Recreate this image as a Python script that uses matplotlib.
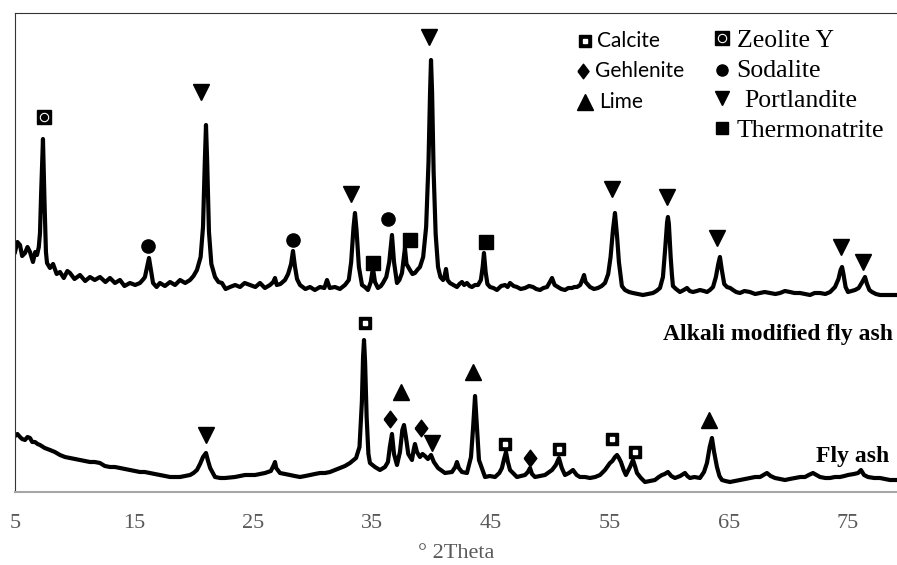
import matplotlib.pyplot as plt
from matplotlib.path import Path

# XRD pattern (2theta in degrees, intensity in a.u.)
two_theta_alkali = [5.00, 5.20, 5.42, 5.60, 5.84, 6.05, 6.26, 6.51, 6.70, 6.85, 7.00, 7.10, 7.20, 7.35, 7.48, 7.60,
                    7.69, 7.94, 8.20, 8.50, 8.78, 9.10, 9.40, 9.62, 10.0, 10.46, 10.9, 11.30, 11.7, 12.14, 12.6,
                    12.98, 13.4, 13.82, 14.2, 14.66, 15.1, 15.50, 15.80, 15.92, 16.10, 16.26, 16.42, 16.60, 16.9,
                    17.18, 17.6, 18.03, 18.45, 18.87, 19.3, 19.71, 20.0, 20.29, 20.6, 20.8, 20.95, 21.05, 21.15,
                    21.3, 21.5, 21.81, 22.1, 22.39, 22.7, 23.07, 23.5, 23.91, 24.3, 24.75, 25.2, 25.59, 26.0,
                    26.43, 26.7, 26.85, 27.0, 27.3, 27.69, 27.95, 28.2, 28.36, 28.52, 28.7, 28.95, 29.4, 29.79,
                    30.2, 30.63, 31.0, 31.22, 31.45, 31.89, 32.3, 32.73, 33.05, 33.25, 33.45, 33.57, 33.7, 33.9,
                    34.16, 34.4, 34.66, 34.9, 35.08, 35.25, 35.50, 35.75, 35.92, 36.2, 36.45, 36.68, 36.85, 37.10,
                    37.3, 37.52, 37.65, 37.77, 37.9, 38.19, 38.4, 38.61, 38.8, 39.03, 39.3, 39.55, 39.75, 39.88,
                    39.96, 40.05, 40.18, 40.35, 40.55, 40.75, 40.97, 41.1, 41.22, 41.35, 41.55, 41.85, 42.14,
                    42.35, 42.56, 42.75, 42.98, 43.2, 43.40, 43.65, 43.91, 44.15, 44.3, 44.41, 44.55, 44.7, 44.92,
                    45.2, 45.50, 45.85, 46.18, 46.4, 46.60, 46.9, 47.18, 47.5, 47.86, 48.2, 48.53, 48.8, 49.12,
                    49.4, 49.71, 49.95, 50.13, 50.35, 50.63, 50.9, 51.22, 51.5, 51.81, 52.0, 52.23, 52.5, 52.7,
                    52.82, 52.95, 53.32, 53.65, 53.99, 54.3, 54.58, 54.85, 55.05, 55.25, 55.42, 55.6, 55.75, 56.0,
                    56.26, 56.6, 56.93, 57.35, 57.77, 58.2, 58.61, 58.9, 59.20, 59.45, 59.65, 59.80, 59.87, 59.95,
                    60.1, 60.2, 60.29, 60.55, 60.88, 61.2, 61.47, 61.7, 61.97, 62.3, 62.56, 62.9, 63.15, 63.4,
                    63.66, 63.9, 64.1, 64.24, 64.4, 64.6, 64.83, 65.1, 65.34, 65.6, 65.92, 66.3, 66.76, 67.2,
                    67.61, 68.0, 68.45, 68.9, 69.29, 69.7, 70.13, 70.5, 70.97, 71.4, 71.81, 72.2, 72.65, 73.1,
                    73.5, 73.91, 74.2, 74.38, 74.50, 74.62, 74.8, 75.00, 75.3, 75.59, 75.9, 76.2, 76.43, 76.6,
                    76.8, 77.02, 77.35, 77.69, 78.1, 78.53, 79.12]
counts_alkali = [240, 250, 247, 236, 239, 245, 240, 230, 240, 237, 245, 259, 300, 353, 290, 240,
                 229, 224, 228, 218, 220, 214, 221, 219, 213, 217, 211, 215, 212, 215, 210,
                 214, 209, 212, 206, 209, 207, 209, 213, 215, 225, 234, 222, 209, 205,
                 209, 206, 210, 207, 212, 209, 212, 216, 222, 235, 265, 330, 367, 330,
                 260, 228, 215, 210, 209, 203, 205, 207, 205, 209, 207, 205, 209, 204,
                 207, 210, 214, 207, 208, 212, 218, 228, 241, 226, 213, 207, 203, 205,
                 202, 205, 204, 212, 204, 205, 203, 207, 212, 230, 265, 279, 262, 225,
                 207, 205, 202, 210, 224, 210, 204, 206, 209, 215, 230, 257, 230, 209,
                 212, 219, 232, 244, 228, 222, 218, 219, 222, 225, 235, 265, 330, 400,
                 432, 400, 320, 258, 225, 215, 212, 216, 223, 212, 209, 207, 205,
                 208, 210, 207, 209, 206, 205, 207, 207, 212, 225, 239, 220, 208, 205,
                 204, 202, 206, 207, 205, 209, 206, 205, 203, 204, 206, 205, 203, 202,
                 204, 205, 210, 214, 207, 205, 203, 202, 204, 204, 205, 205, 207, 213,
                 217, 210, 205, 203, 204, 206, 209, 218, 235, 262, 279, 255, 230, 206,
                 202, 200, 199, 198, 197, 198, 199, 201, 204, 215, 245, 270, 275, 268,
                 235, 218, 206, 203, 200, 202, 204, 201, 200, 201, 202, 201, 200, 202,
                 205, 215, 228, 235, 222, 208, 205, 204, 202, 200, 199, 201, 200, 198,
                 199, 200, 199, 198, 199, 201, 200, 199, 199, 198, 197, 199, 199, 198,
                 200, 205, 213, 222, 225, 218, 205, 200, 201, 202, 204, 210, 215, 208,
                 202, 200, 198, 197, 197, 197, 197]

two_theta_fly = [5.00, 5.20, 5.42, 5.60, 5.84, 6.05, 6.26, 6.45, 6.68, 6.90, 7.10, 7.50, 7.94, 8.35, 8.78, 9.20,
                 9.62, 10.05, 10.46, 10.9, 11.30, 11.7, 12.14, 12.55, 12.98, 13.4, 13.82, 14.25, 14.66, 15.1,
                 15.50, 15.9, 16.34, 16.8, 17.18, 17.6, 18.03, 18.45, 18.87, 19.3, 19.71, 20.0, 20.29, 20.55,
                 20.80, 21.05, 21.20, 21.4, 21.81, 22.25, 22.65, 23.49, 23.9, 24.33, 24.75, 25.17, 25.6, 26.01,
                 26.5, 26.75, 26.85, 26.95, 27.27, 27.7, 28.11, 28.5, 28.95, 29.4, 29.79, 30.2, 30.63, 31.05,
                 31.47, 31.9, 32.31, 32.73, 33.15, 33.66, 33.95, 34.15, 34.25, 34.33, 34.42, 34.55, 34.70, 34.83,
                 35.25, 35.67, 36.09, 36.34, 36.50, 36.68, 36.85, 37.10, 37.35, 37.55, 37.69, 37.85, 38.05, 38.36,
                 38.50, 38.61, 38.78, 39.03, 39.25, 39.45, 39.70, 39.96, 40.2, 40.55, 41.13, 41.72, 42.0, 42.14,
                 42.3, 42.56, 42.98, 43.32, 43.50, 43.66, 43.82, 43.99, 44.50, 44.9, 45.34, 45.70, 45.92, 46.10,
                 46.26, 46.42, 46.60, 47.18, 47.86, 48.10, 48.28, 48.45, 48.70, 49.1, 49.54, 50.13, 50.45, 50.71,
                 50.95, 51.22, 51.55, 51.89, 52.2, 52.48, 52.9, 53.32, 53.75, 54.16, 54.58, 55.00, 55.20, 55.42,
                 55.59, 55.75, 55.92, 56.15, 56.34, 56.55, 56.68, 56.93, 57.10, 57.27, 57.6, 57.94, 58.35, 58.78,
                 59.1, 59.37, 59.6, 59.87, 60.15, 60.46, 60.9, 61.30, 61.5, 61.72, 62.1, 62.56, 62.9, 63.15,
                 63.38, 63.57, 63.75, 63.99, 64.2, 64.41, 64.7, 65.08, 65.5, 65.92, 66.3, 66.76, 67.2, 67.61,
                 67.9, 68.19, 68.5, 68.87, 69.3, 69.71, 70.1, 70.55, 71.0, 71.39, 71.7, 72.06, 72.35, 72.65,
                 73.1, 73.49, 73.9, 74.33, 74.7, 75.00, 75.5, 75.85, 76.09, 76.35, 76.68, 77.2, 77.69, 78.1,
                 78.53, 79.12]
counts_fly = [56, 58, 55, 53, 52, 55, 54, 50, 50, 48, 47, 44, 42, 40, 37, 35,
              34, 33, 32, 31, 30, 30, 29, 26, 25, 25, 24, 23, 22, 21,
              20, 20, 19, 18, 17, 16, 15, 15, 15, 16, 17, 19, 22, 28,
              35, 39, 32, 24, 15, 14, 14, 15, 16, 17, 17, 17, 18, 19,
              21, 27, 30, 24, 19, 18, 17, 16, 15, 16, 17, 18, 19, 19,
              20, 22, 24, 26, 29, 34, 45, 90, 135, 152, 130, 75, 38, 29,
              25, 22, 25, 30, 45, 58, 38, 27, 40, 62, 67, 55, 38, 32,
              42, 48, 40, 35, 38, 36, 33, 37, 30, 24, 19, 20, 25, 30,
              24, 20, 19, 35, 65, 96, 65, 32, 15, 16, 15, 19, 24, 33,
              40, 30, 22, 15, 17, 20, 24, 18, 15, 16, 17, 22, 27, 34,
              24, 17, 19, 22, 17, 15, 15, 14, 15, 17, 22, 29, 31, 35,
              37, 34, 30, 22, 17, 22, 25, 32, 26, 19, 14, 10, 11, 12,
              15, 17, 18, 20, 16, 14, 16, 19, 16, 14, 15, 14, 20, 29,
              45, 54, 40, 25, 16, 12, 11, 10, 11, 12, 13, 14, 15, 15,
              17, 19, 16, 14, 13, 12, 13, 14, 15, 15, 17, 19, 17, 15,
              14, 14, 15, 15, 16, 17, 18, 19, 22, 17, 15, 14, 14, 13,
              12, 12]

# phase markers above the peaks (x = 2theta, y = height)
zeolite_x = [7.44]
zeolite_y = [375]
sodalite_x = [16.18, 28.36, 36.34]
sodalite_y = [246, 252, 273]
portlandite_x = [20.63, 33.24, 39.79, 55.17, 59.79, 63.99, 74.41, 76.26, 21.05, 40.04]
portlandite_y = [400, 298, 455, 303, 295, 254, 245, 230, 57, 49]
thermonatrite_x = [35.08, 38.19, 44.58]
thermonatrite_y = [229, 252, 250]
calcite_x = [34.41, 46.18, 50.71, 55.17, 57.10]
calcite_y = [169, 48, 43, 53, 40]
gehlenite_x = [36.51, 39.12, 48.28]
gehlenite_y = [73, 64, 34]
lime_x = [37.44, 43.49, 63.32]
lime_y = [100, 120, 72]

ticks = [5, 15, 25, 35, 45, 55, 65, 75]

diamond = Path([(-0.38, 0), (0, 0.5), (0.38, 0), (0, -0.5), (-0.38, 0)])

fig = plt.figure(figsize=(8.97, 5.65), dpi=100)
ax = fig.add_axes([15/897, 73/565, 882/897, 479/565])

ax.plot(two_theta_alkali, counts_alkali, color='black', lw=3.0, solid_joinstyle='round')
ax.plot(two_theta_fly, counts_fly, color='black', lw=3.0, solid_joinstyle='round')

def zeolite(x, y, ms):
    ax.plot(x, y, 's', ms=ms, color='black', ls='none')
    ax.plot(x, y, 'o', ms=ms*0.6, mfc='none', mec='white', mew=0.8, ls='none')

def calcite(x, y, ms):
    ax.plot(x, y, 's', ms=ms, color='black', ls='none')
    ax.plot(x, y, 's', ms=ms*0.35, color='white', ls='none')

zeolite(zeolite_x, zeolite_y, 10)
ax.plot(sodalite_x, sodalite_y, 'o', ms=9.5, color='black', ls='none')
ax.plot(portlandite_x, portlandite_y, 'v', ms=12, color='black', ls='none')
ax.plot(thermonatrite_x, thermonatrite_y, 's', ms=10, color='black', ls='none')
calcite(calcite_x, calcite_y, 8.5)
ax.plot(gehlenite_x, gehlenite_y, marker=diamond, ms=12, color='black', ls='none')
ax.plot(lime_x, lime_y, '^', ms=11.5, color='black', ls='none')

# legend drawn by hand
calcite([52.90], [451], 8)
ax.plot([52.73], [421], marker=diamond, ms=10.5, color='black')
ax.plot([52.90], [390], '^', ms=11, color='black')
zeolite([64.41], [454], 10)
ax.plot([64.41], [422], 'o', ms=8, color='black')
ax.plot([64.41], [394], 'v', ms=10, color='black')
ax.plot([64.41], [364], 's', ms=9, color='black')

sans = dict(family='Lato', fontsize=15, va='baseline')
serif = dict(family='Liberation Serif', fontsize=18.5, va='baseline')
ax.text(53.95, 445, 'Calcite', **sans)
ax.text(53.70, 415, 'Gehlenite', **sans)
ax.text(54.10, 384, 'Lime', **sans)
ax.text(65.65, 445, 'Zeolite Y', **serif)
ax.text(65.65, 415, 'Sodalite', **serif)
ax.text(66.30, 385, 'Portlandite', **serif)
ax.text(65.65, 355, 'Thermonatrite', **serif)

ax.text(78.78, 152, 'Alkali modified fly ash', family='Liberation Serif', fontsize=17,
        fontweight='bold', ha='right', va='baseline')
ax.text(78.45, 30, 'Fly ash', family='Liberation Serif', fontsize=17,
        fontweight='bold', ha='right', va='baseline')

ax.set_xlim(5, 79.12)
ax.set_ylim(0, 479)
ax.set_xticks(ticks)
ax.set_xticklabels([str(t) for t in ticks], family='Liberation Serif', fontsize=16, color='#595959')
ax.set_yticks([])
ax.tick_params(axis='x', length=0, pad=16)
ax.set_xlabel('° 2Theta', family='Liberation Serif', fontsize=16, color='#595959', labelpad=8)

ax.spines['right'].set_visible(False)
ax.spines['top'].set_color('#333333')
ax.spines['left'].set_color('#333333')
ax.spines['bottom'].set_color('#a6a6a6')
ax.spines['bottom'].set_linewidth(1.5)

plt.savefig('out.png', dpi=100)
